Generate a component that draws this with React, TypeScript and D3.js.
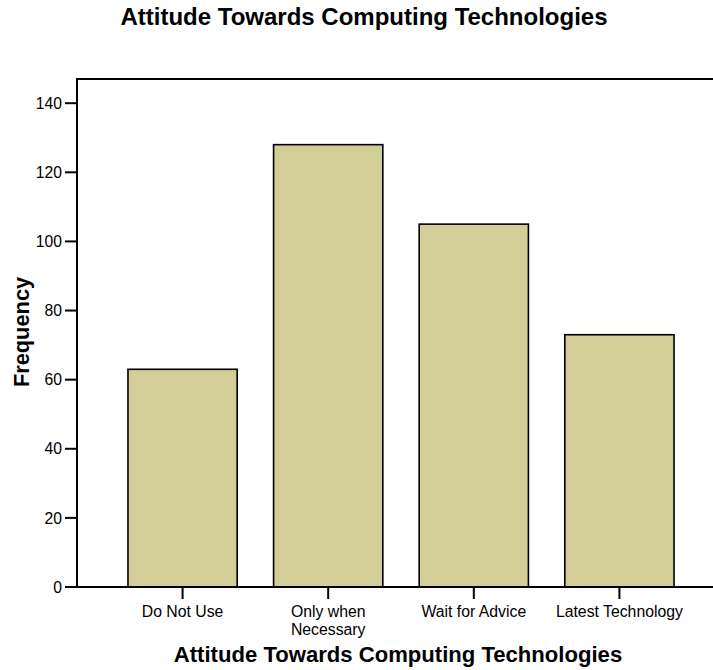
import React from 'react';
import * as d3 from 'd3';

const categories: string[] = ['Do Not Use', 'Only when Necessary', 'Wait for Advice', 'Latest Technology'];
const tickLabelLines: string[][] = [['Do Not Use'], ['Only when', 'Necessary'], ['Wait for Advice'], ['Latest Technology']];
const frequencies: number[] = [63, 128, 105, 73];
const yTicks: number[] = [0, 20, 40, 60, 80, 100, 120, 140];

const title = 'Attitude Towards Computing Technologies';
const xTitle = 'Attitude Towards Computing Technologies';
const yTitle = 'Frequency';

const width = 713;
const height = 670;
const pad = { left: 77, right: -12, top: 79, bottom: 83 };
const font = 'Arial, "Liberation Sans", Helvetica, sans-serif';

export default function App() {
  const xScale = d3
    .scaleBand<string>()
    .domain(categories)
    .range([pad.left, width - pad.right])
    .paddingInner(0.25)
    .paddingOuter(0.35);

  const yScale = d3
    .scaleLinear()
    .domain([0, 147])
    .range([height - pad.bottom, pad.top]);

  const y0 = yScale(0);

  return (
    <svg
      width={width}
      height={height}
      style={{ position: 'absolute', left: 0, top: 0, background: '#fff' }}
      fontFamily={font}
    >
      <text x={364} y={25} textAnchor="middle" fontSize={24} fontWeight="bold" fill="#000">
        {title}
      </text>

      {/* bars */}
      {categories.map((c, i) => (
        <rect
          key={c}
          x={xScale(c)!}
          y={yScale(frequencies[i])}
          width={xScale.bandwidth()}
          height={y0 - yScale(frequencies[i])}
          fill="#d3ce98"
          stroke="#000"
          strokeWidth={1.6}
        />
      ))}

      {/* frame */}
      <path
        d={`M${pad.left},${y0} V${pad.top} H${width + 5}`}
        fill="none"
        stroke="#000"
        strokeWidth={2}
      />
      <line x1={pad.left - 12} x2={width} y1={y0} y2={y0} stroke="#000" strokeWidth={2} />

      {/* y axis ticks */}
      {yTicks.map((t) => (
        <g key={t} transform={`translate(0,${yScale(t)})`}>
          <line x1={pad.left - 12} x2={pad.left} stroke="#000" strokeWidth={2} />
          <text x={pad.left - 15} dy="0.36em" textAnchor="end" fontSize={15.7} fill="#000">
            {t}
          </text>
        </g>
      ))}

      {/* x axis ticks */}
      {categories.map((c, i) => {
        const cx = xScale(c)! + xScale.bandwidth() / 2;
        return (
          <g key={c} transform={`translate(${cx},0)`}>
            <line y1={y0} y2={y0 + 12} stroke="#000" strokeWidth={2} />
            {tickLabelLines[i].map((ln, j) => (
              <text key={j} y={y0 + 30 + j * 18} textAnchor="middle" fontSize={15.8} fill="#000">
                {ln}
              </text>
            ))}
          </g>
        );
      })}

      <text x={398} y={662} textAnchor="middle" fontSize={22.1} fontWeight="bold" fill="#000">
        {xTitle}
      </text>
      <text
        transform={`translate(29,332) rotate(-90)`}
        textAnchor="middle"
        fontSize={21.8}
        fontWeight="bold"
        fill="#000"
      >
        {yTitle}
      </text>
    </svg>
  );
}
